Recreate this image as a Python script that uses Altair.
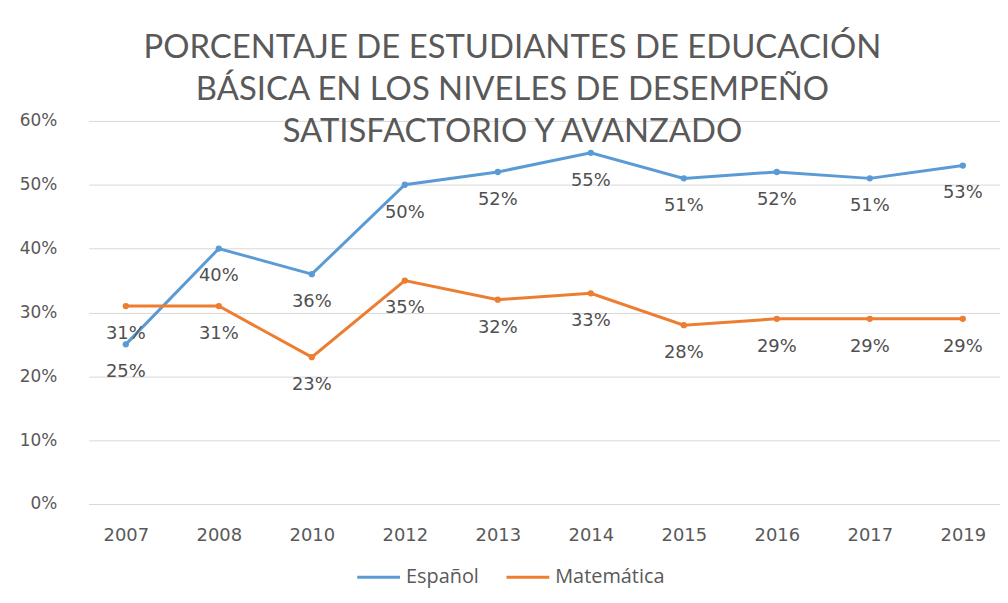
import altair as alt
import pandas as pd

years = ["2007", "2008", "2010", "2012", "2013", "2014", "2015", "2016", "2017", "2019"]
espanol = [25, 40, 36, 50, 52, 55, 51, 52, 51, 53]
matematica = [31, 31, 23, 35, 32, 33, 28, 29, 29, 29]
series_names = ["Español", "Matemática"]
colors = ["#5B9BD5", "#ED7D31"]
title_lines = [
    "PORCENTAJE DE ESTUDIANTES DE EDUCACIÓN",
    "BÁSICA EN LOS NIVELES DE DESEMPEÑO",
    "SATISFACTORIO Y AVANZADO",
]

rows = []
for y, e, m in zip(years, espanol, matematica):
    rows.append({"Año": y, "Serie": series_names[0], "Valor": e / 100})
    rows.append({"Año": y, "Serie": series_names[1], "Valor": m / 100})
df = pd.DataFrame(rows)

x_enc = alt.X("Año:O", sort=years,
              scale=alt.Scale(type="point", padding=0.40),
              axis=alt.Axis(title=None, labelAngle=0, grid=False, ticks=False,
                            domain=True, domainColor="#d9d9d9", labelPadding=23,
                            labelFont="DejaVu Sans", labelFontSize=18, labelColor="#595959"))
y_enc = alt.Y("Valor:Q", scale=alt.Scale(domain=[0, 0.6]),
              axis=alt.Axis(title=None, format=".0%", values=[0, 0.1, 0.2, 0.3, 0.4, 0.5, 0.6],
                            grid=True, gridColor="#d9d9d9", domain=False, ticks=False,
                            labelPadding=32, labelFont="DejaVu Sans", labelFontSize=17,
                            labelColor="#595959"))
color_enc = alt.Color("Serie:N", scale=alt.Scale(domain=series_names, range=colors),
                      legend=alt.Legend(title=None, orient="none", direction="horizontal",
                                        legendX=268, legendY=435, symbolType="stroke",
                                        symbolStrokeWidth=3, symbolSize=1850, labelOffset=4,
                                        labelFont="Open Sans", labelFontSize=20, labelColor="#595959",
                                        columnPadding=20))

base = alt.Chart(df).encode(x=x_enc, y=y_enc, color=color_enc)

lines = base.mark_line(strokeWidth=3, point=alt.OverlayMarkDef(size=40, filled=True))
labels = base.mark_text(dy=28, font="DejaVu Sans", fontSize=18, color="#505050").encode(
    text=alt.Text("Valor:Q", format=".0%"), color=alt.value("#505050"))

chart = alt.layer(lines, labels).properties(
    width=916, height=385,
    background="white",
    autosize=alt.AutoSizeParams(type="none"),
    padding={"left": 81, "top": 112, "right": 0, "bottom": 90},
    title=alt.TitleParams(text=title_lines, anchor="middle", font="Lato", fontSize=33,
                          fontWeight="normal", color="#595959", lineHeight=42, dx=-32, dy=41),
).configure_view(strokeWidth=0, stroke="transparent")

chart.save("out.html", embed_options={"renderer": "svg", "actions": False})
